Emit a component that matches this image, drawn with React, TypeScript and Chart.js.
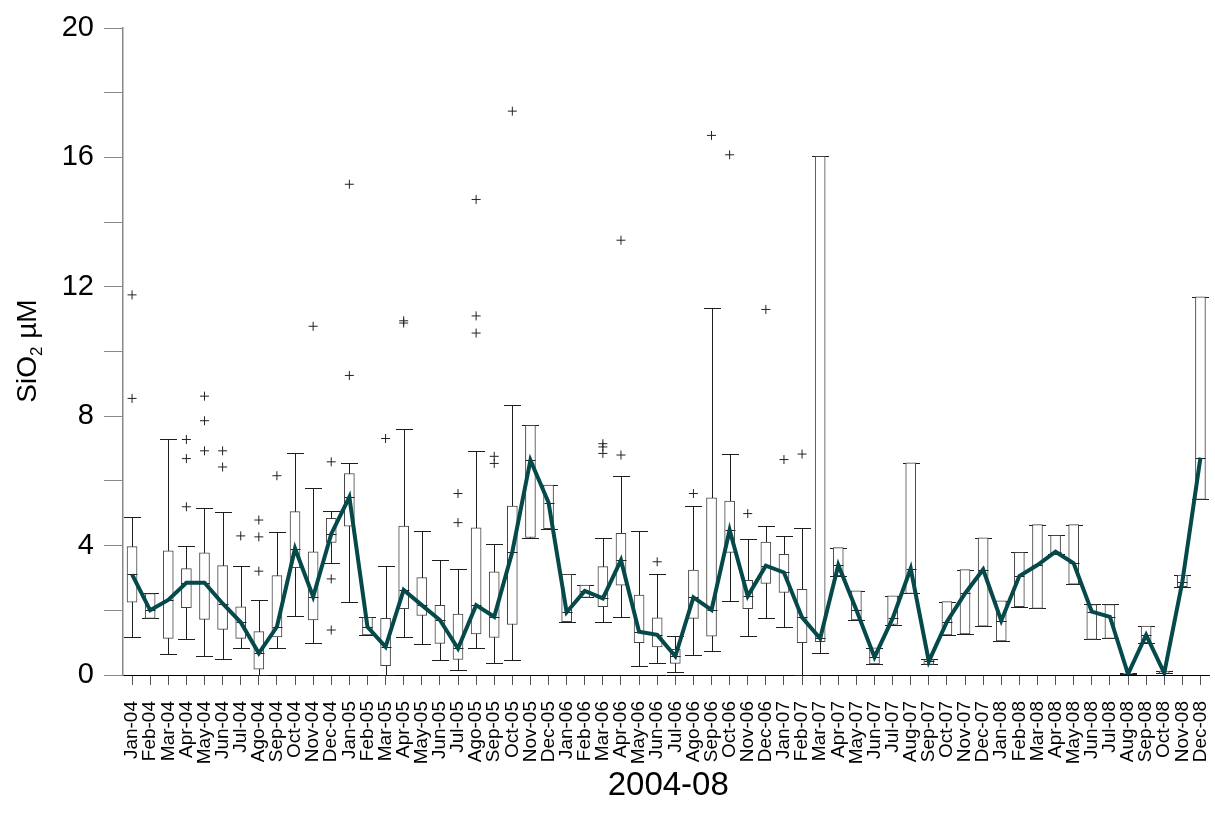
import { useEffect, useRef } from 'react';
import { Chart, registerables } from 'chart.js';

Chart.register(...registerables);

// Monthly sampling campaigns, 2004-2008
const months = [
  'Jan-04', 'Feb-04', 'Mar-04', 'Apr-04', 'May-04', 'Jun-04', 'Jul-04', 'Ago-04', 'Sep-04', 'Oct-04', 'Nov-04', 'Dec-04',
  'Jan-05', 'Feb-05', 'Mar-05', 'Apr-05', 'May-05', 'Jun-05', 'Jul-05', 'Ago-05', 'Sep-05', 'Oct-05', 'Nov-05', 'Dec-05',
  'Jan-06', 'Feb-06', 'Mar-06', 'Apr-06', 'May-06', 'Jun-06', 'Jul-06', 'Ago-06', 'Sep-06', 'Oct-06', 'Nov-06', 'Dec-06',
  'Jan-07', 'Feb-07', 'Mar-07', 'Apr-07', 'May-07', 'Jun-07', 'Jul-07', 'Aug-07', 'Sep-07', 'Oct-07', 'Nov-07', 'Dec-07',
  'Jan-08', 'Feb-08', 'Mar-08', 'Apr-08', 'May-08', 'Jun-08', 'Jul-08', 'Aug-08', 'Sep-08', 'Oct-08', 'Nov-08', 'Dec-08',
];

// Box-plot statistics of SiO2 (µM) per month
const whiskerLow = [
  1.18, 1.75, 0.64, 1.10, 0.59, 0.48, 0.82, 0.0, 0.84, 1.82, 0.98, 3.47,
  2.25, 1.24, 0.0, 1.18, 0.95, 0.46, 0.15, 0.84, 0.38, 0.45, 4.25, 4.52,
  1.65, 2.40, 1.65, 1.78, 0.28, 0.38, 0.10, 0.62, 0.75, 2.28, 1.20, 1.75,
  1.48, 0.0, 0.67, 3.07, 1.70, 0.34, 1.56, 2.52, 0.33, 1.24, 1.27, 1.51,
  1.05, 2.11, 2.06, 3.74, 2.81, 1.10, 1.13, 0.02, 1.00, 0.05, 2.73, 5.43,
];
const quartile1 = [
  2.25, 1.75, 1.13, 2.08, 1.72, 1.41, 1.13, 0.18, 1.18, 3.32, 1.70, 4.10,
  4.60, 1.24, 0.29, 2.05, 1.84, 0.98, 0.48, 1.27, 1.16, 1.56, 4.25, 4.52,
  1.65, 2.40, 2.11, 2.78, 1.00, 0.87, 0.36, 1.75, 1.20, 3.79, 2.05, 2.83,
  2.55, 1.00, 1.03, 3.07, 1.70, 0.34, 1.56, 2.52, 0.33, 1.24, 1.27, 1.51,
  1.05, 2.11, 2.06, 3.74, 2.81, 1.10, 1.13, 0.02, 1.00, 0.05, 2.73, 5.43,
];
const medians = [
  3.11, 2.00, 2.32, 2.85, 2.85, 2.21, 1.63, 0.67, 1.49, 3.91, 2.42, 4.36,
  5.50, 1.49, 0.87, 2.63, 2.16, 1.70, 0.82, 2.16, 1.80, 3.81, 6.64, 5.33,
  1.94, 2.60, 2.37, 3.55, 1.34, 1.24, 0.58, 2.40, 2.01, 4.48, 2.44, 3.38,
  3.17, 1.78, 1.13, 3.40, 2.01, 0.55, 1.75, 3.29, 0.42, 1.65, 2.52, 3.26,
  1.68, 3.06, 3.40, 3.81, 3.45, 1.96, 1.80, 0.03, 1.24, 0.06, 2.88, 6.72,
];
const quartile3 = [
  3.97, 2.52, 3.84, 3.29, 3.78, 3.38, 2.11, 1.34, 3.07, 5.05, 3.81, 4.84,
  6.23, 1.78, 1.75, 4.60, 3.01, 2.15, 1.88, 4.55, 3.19, 5.22, 7.72, 5.87,
  3.11, 2.78, 3.35, 4.38, 2.47, 1.77, 0.79, 3.24, 5.48, 5.38, 2.93, 4.11,
  3.73, 2.65, 16.03, 3.94, 2.60, 0.84, 2.45, 6.56, 0.48, 2.27, 3.26, 4.24,
  2.29, 3.79, 4.65, 4.32, 4.65, 2.18, 2.18, 0.05, 1.51, 0.12, 3.09, 11.69,
];
const whiskerHigh = [
  4.88, 2.52, 7.28, 3.98, 5.15, 5.05, 3.38, 2.32, 4.43, 6.85, 5.79, 5.08,
  6.56, 1.78, 3.38, 7.59, 4.46, 3.54, 3.29, 6.91, 4.06, 8.34, 7.72, 5.87,
  3.11, 2.78, 4.22, 6.16, 4.46, 3.11, 1.20, 5.22, 11.33, 6.82, 4.19, 4.62,
  4.30, 4.55, 16.03, 3.94, 2.60, 0.84, 2.45, 6.56, 0.48, 2.27, 3.26, 4.24,
  2.29, 3.79, 4.65, 4.32, 4.65, 2.18, 2.18, 0.05, 1.51, 0.12, 3.09, 11.69,
];

// Outliers: month index and value
const outlierMonth = [
  0, 0, 3, 3, 3, 4, 4, 4, 5, 5, 6, 7, 7, 7, 8, 10, 11, 11, 11,
  12, 12, 14, 15, 15, 18, 18, 19, 19, 19, 20, 20, 21,
  26, 26, 26, 27, 27, 29, 31, 32, 33, 34, 35, 36, 37,
];
const outlierValue = [
  8.55, 11.75, 5.20, 6.69, 7.28, 6.93, 7.86, 8.62, 6.43, 6.93, 4.30, 3.21, 4.27, 4.79, 6.16, 10.78, 1.39, 2.97, 6.59,
  9.26, 15.17, 7.31, 10.88, 10.95, 4.71, 5.61, 10.57, 11.10, 14.70, 6.54, 6.76, 17.43,
  6.85, 7.05, 7.15, 6.80, 13.44, 3.50, 5.61, 16.68, 16.08, 4.99, 11.30, 6.66, 6.83,
];

const yLabelTicks = [0, 4, 8, 12, 16, 20];

const FONT = "'Liberation Sans', Arial, sans-serif";
const MEDIAN_LINE_COLOR = '#05494a';
const BOX_WIDTH = 10;
const CAP_WIDTH = 17;

function centerX(scale: any, i: number) {
  return Math.round(scale.getPixelForValue(i)) + 0.5;
}

const boxPlotPlugin = {
  id: 'boxPlotParts',
  beforeDatasetsDraw(chart: any) {
    const { ctx, scales } = chart;
    const ys = scales.y;
    ctx.save();
    ctx.strokeStyle = '#1e1e1e';
    ctx.lineWidth = 1;
    for (let i = 0; i < months.length; i++) {
      const px = centerX(scales.x, i);
      const lo = Math.round(ys.getPixelForValue(whiskerLow[i])) + 0.5;
      const hi = Math.round(ys.getPixelForValue(whiskerHigh[i])) + 0.5;
      ctx.beginPath();
      ctx.moveTo(px, lo);
      ctx.lineTo(px, hi);
      ctx.moveTo(px - CAP_WIDTH / 2, hi);
      ctx.lineTo(px + CAP_WIDTH / 2, hi);
      ctx.moveTo(px - CAP_WIDTH / 2, lo);
      ctx.lineTo(px + CAP_WIDTH / 2, lo);
      ctx.stroke();
    }
    ctx.restore();
  },
  afterDatasetDraw(chart: any, args: any) {
    if (args.meta.type !== 'bar') return;
    const { ctx, scales } = chart;
    ctx.save();
    ctx.strokeStyle = '#222';
    ctx.lineWidth = 1;
    for (let i = 0; i < months.length; i++) {
      const px = centerX(scales.x, i);
      const py = Math.round(scales.y.getPixelForValue(medians[i])) + 0.5;
      ctx.beginPath();
      ctx.moveTo(px - BOX_WIDTH / 2, py);
      ctx.lineTo(px + BOX_WIDTH / 2, py);
      ctx.stroke();
    }
    ctx.restore();
  },
  afterDraw(chart: any) {
    const { ctx, chartArea } = chart;
    ctx.save();
    ctx.fillStyle = '#000';

    // y-axis title with subscript
    const main = `28px ${FONT}`;
    const sub = `17px ${FONT}`;
    ctx.font = main;
    const wA = ctx.measureText('SiO').width;
    const wC = ctx.measureText(' µM').width;
    ctx.font = sub;
    const wB = ctx.measureText('2').width;
    const total = wA + wB + wC;
    ctx.translate(36, 351);
    ctx.rotate(-Math.PI / 2);
    ctx.textBaseline = 'alphabetic';
    ctx.textAlign = 'left';
    let x0 = -total / 2;
    ctx.font = main;
    ctx.fillText('SiO', x0, 0);
    x0 += wA;
    ctx.font = sub;
    ctx.fillText('2', x0, 6);
    x0 += wB;
    ctx.font = main;
    ctx.fillText(' µM', x0, 0);
    ctx.restore();

    // x-axis title
    ctx.save();
    ctx.fillStyle = '#000';
    ctx.font = `33px ${FONT}`;
    ctx.textAlign = 'center';
    ctx.textBaseline = 'alphabetic';
    ctx.fillText('2004-08', (chartArea.left + chartArea.right) / 2 + 2, 795);
    ctx.restore();
  },
};

export default function App() {
  const canvasRef = useRef<HTMLCanvasElement | null>(null);

  useEffect(() => {
    const canvas = canvasRef.current;
    if (!canvas) return;

    const chart = new Chart(canvas, {
      type: 'bar',
      data: {
        labels: months,
        datasets: [
          {
            type: 'line',
            label: 'Median',
            data: medians,
            borderColor: MEDIAN_LINE_COLOR,
            borderWidth: 4,
            pointRadius: 0,
            tension: 0,
            order: 0,
          } as any,
          {
            type: 'line',
            label: 'Outliers',
            data: outlierMonth.map((m, k) => ({ x: months[m], y: outlierValue[k] })),
            showLine: false,
            pointStyle: 'cross',
            pointRadius: 4.5,
            pointBorderColor: '#222',
            pointBorderWidth: 1,
            borderColor: '#222',
            order: 1,
          } as any,
          {
            type: 'bar',
            label: 'IQR',
            data: quartile1.map((v, i) => [v, quartile3[i]]),
            backgroundColor: '#ffffff',
            borderColor: '#444444',
            borderWidth: 1,
            borderSkipped: false,
            barThickness: BOX_WIDTH,
            order: 2,
          } as any,
        ],
      },
      options: {
        responsive: false,
        animation: false,
        events: [],
        layout: { padding: { left: 0, top: 28, right: 5, bottom: 0 } },
        plugins: {
          legend: { display: false },
          tooltip: { enabled: false },
        },
        scales: {
          x: {
            type: 'category',
            offset: true,
            grid: {
              display: true,
              drawOnChartArea: false,
              drawTicks: true,
              tickLength: 10,
              offset: false,
              color: '#555',
            },
            border: { display: true, color: '#000', width: 1 },
            ticks: {
              autoSkip: false,
              maxRotation: 90,
              minRotation: 90,
              padding: 16,
              color: '#000',
              font: { family: FONT, size: 19 },
            },
            afterFit: (scale: any) => {
              scale.height = 146;
              scale.paddingLeft = 0;
              scale.paddingRight = 0;
            },
          },
          y: {
            type: 'linear',
            min: 0,
            max: 20,
            grid: {
              display: true,
              drawOnChartArea: false,
              drawTicks: true,
              tickLength: 19,
              color: '#888',
            },
            border: { display: true, color: '#888', width: 1.5 },
            ticks: {
              stepSize: 2,
              padding: 10,
              color: '#000',
              font: { family: FONT, size: 29 },
              callback: (v: any) => (yLabelTicks.includes(Number(v)) ? String(v) : ''),
            },
            afterFit: (scale: any) => {
              scale.width = 123;
            },
          },
        },
      },
      plugins: [boxPlotPlugin],
    });

    return () => chart.destroy();
  }, []);

  return (
    <div style={{ position: 'absolute', left: 0, top: 0, width: 1215, height: 821, background: '#fff' }}>
      <canvas ref={canvasRef} width={1215} height={821} style={{ display: 'block' }} />
    </div>
  );
}
